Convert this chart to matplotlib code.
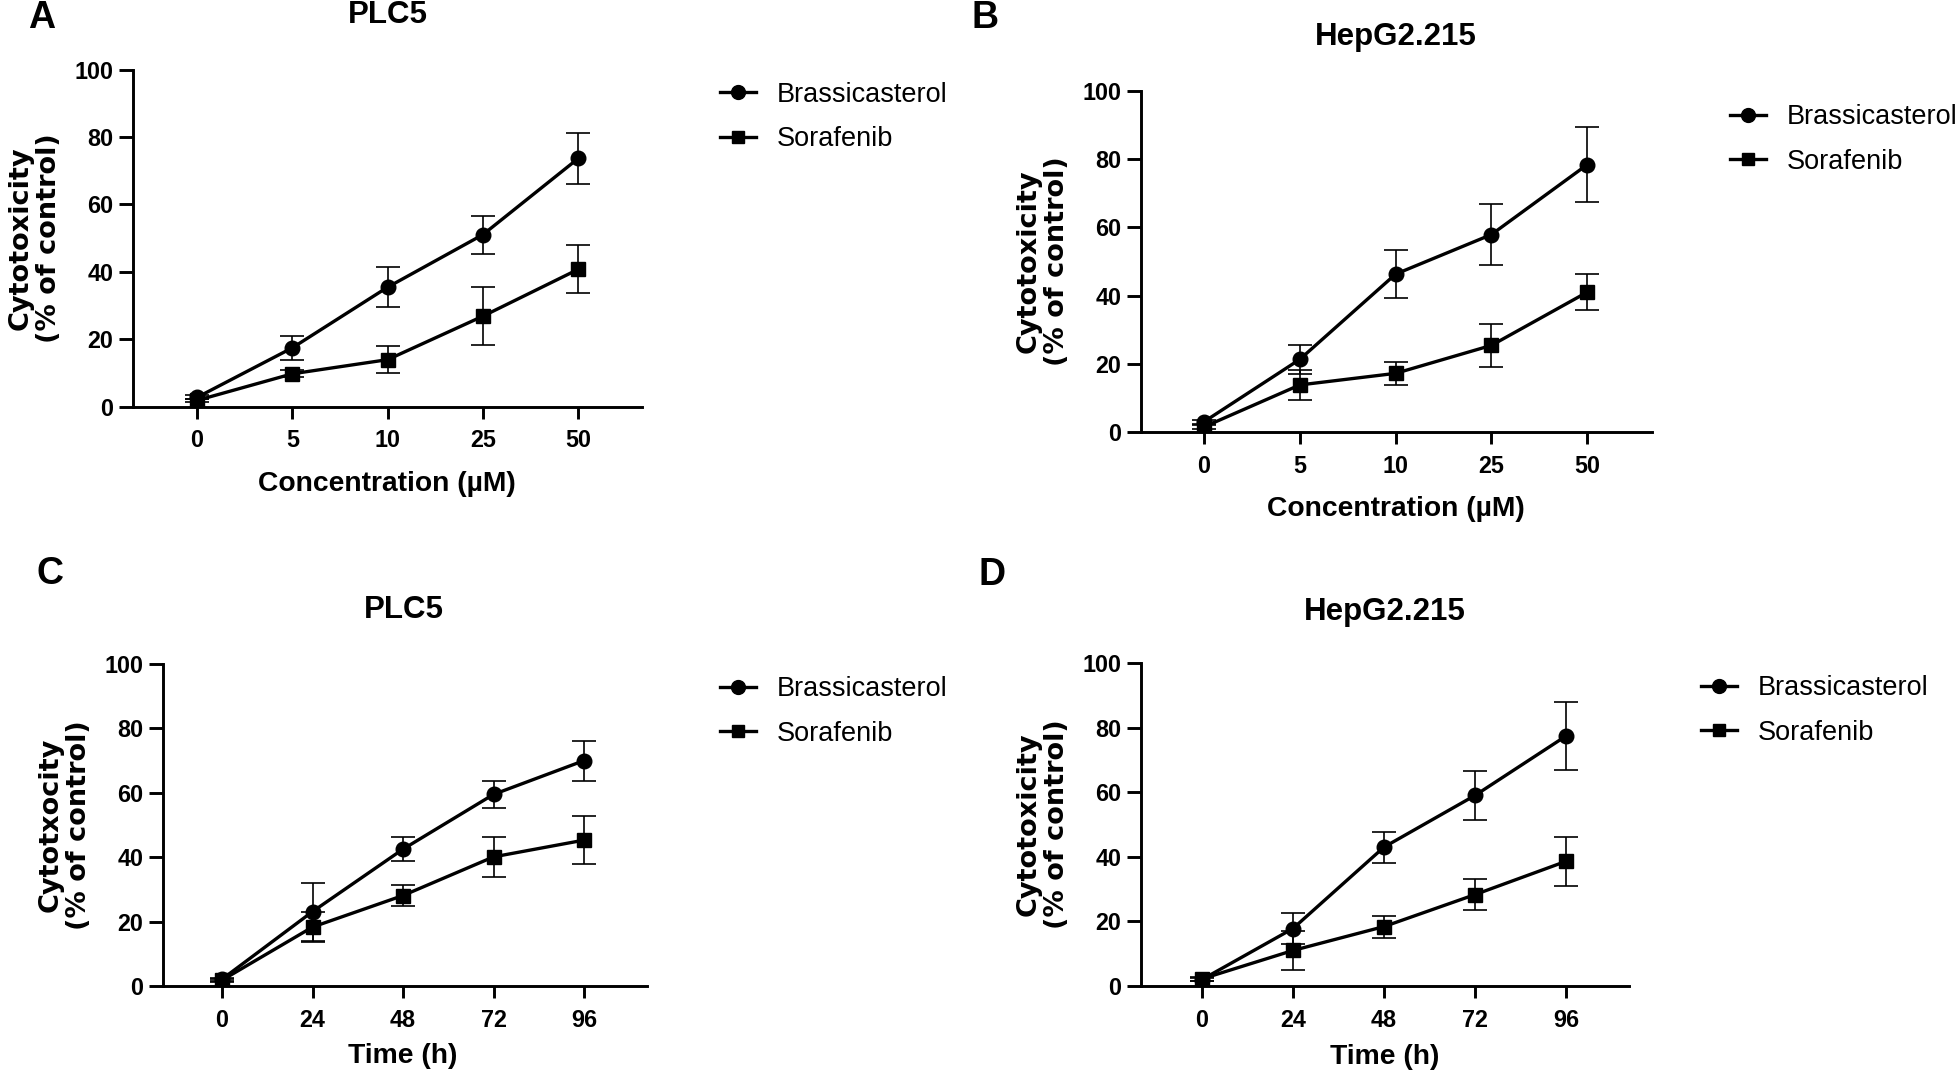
import matplotlib
matplotlib.use("Agg")
import matplotlib.pyplot as plt

# ---------------- data ----------------
conc_labels = ["0", "5", "10", "25", "50"]
time_labels = ["0", "24", "48", "72", "96"]
series_names = ["Brassicasterol", "Sorafenib"]

# Panel A: PLC5, concentration
A_bras = [2.7, 17.4, 35.4, 51.0, 73.6]
A_bras_err = [0.6, 3.5, 6.0, 5.6, 7.7]
A_sora = [1.8, 9.7, 13.9, 26.8, 40.7]
A_sora_err = [0.5, 1.0, 4.1, 8.6, 7.1]

# Panel B: HepG2.215, concentration
B_bras = [3.0, 21.3, 46.3, 57.9, 78.4]
B_bras_err = [0.6, 4.3, 7.1, 9.0, 11.0]
B_sora = [1.5, 13.8, 17.2, 25.4, 41.0]
B_sora_err = [0.5, 4.5, 3.3, 6.3, 5.2]

# Panel C: PLC5, time
C_bras = [2.1, 23.1, 42.5, 59.5, 70.0]
C_bras_err = [0.5, 9.0, 3.7, 4.1, 6.2]
C_sora = [1.8, 18.3, 28.1, 40.1, 45.3]
C_sora_err = [0.5, 4.6, 3.3, 6.3, 7.5]

# Panel D: HepG2.215, time
D_bras = [2.0, 17.8, 43.0, 59.0, 77.4]
D_bras_err = [0.5, 4.7, 4.8, 7.6, 10.6]
D_sora = [2.2, 11.0, 18.4, 28.3, 38.6]
D_sora_err = [0.5, 6.0, 3.4, 4.9, 7.5]

titles = ["PLC5", "HepG2.215", "PLC5", "HepG2.215"]
panel_letters = ["A", "B", "C", "D"]
xlabels = ["Concentration (\u00b5M)", "Concentration (\u00b5M)", "Time (h)", "Time (h)"]
ylabels = ["Cytotoxicity\n(% of control)", "Cytotoxicity\n(% of control)",
           "Cytotxocity\n(% of control)", "Cytotoxicity\n(% of control)"]
yticks = [0, 20, 40, 60, 80, 100]

# ---------------- layout (pixels, from top-left) ----------------
W, H = 1960, 1074
def fx(px):
    return px / W
def fy(py):
    return 1 - py / H

# left, right, top, bottom of axes; x of first tick; tick spacing
layout = [
    dict(l=133, r=642, t=69.5, b=406.5, x0=197, dx=95.3,
         title=(387.5, 15), letter=(42, 18), ylab=35, xlab=(387, 484),
         leg=(720, 81.5)),
    dict(l=1141, r=1652, t=91, b=432, x0=1204, dx=95.8,
         title=(1396, 37), letter=(985, 18), ylab=1043, xlab=(1396, 509),
         leg=(1729.5, 104)),
    dict(l=163, r=647, t=664, b=986, x0=222, dx=90.5,
         title=(404, 610), letter=(50, 574), ylab=65, xlab=(403, 1056),
         leg=(719.5, 676)),
    dict(l=1141, r=1629, t=663, b=986, x0=1202, dx=91.0,
         title=(1385, 612), letter=(992, 575), ylab=1043, xlab=(1385, 1057),
         leg=(1701, 675)),
]

panels = [
    (conc_labels, A_bras, A_bras_err, A_sora, A_sora_err),
    (conc_labels, B_bras, B_bras_err, B_sora, B_sora_err),
    (time_labels, C_bras, C_bras_err, C_sora, C_sora_err),
    (time_labels, D_bras, D_bras_err, D_sora, D_sora_err),
]

SANS = ["Liberation Sans", "DejaVu Sans"]
WIDE = ["DejaVu Sans"]
plt.rcParams["font.family"] = SANS

fig = plt.figure(figsize=(W / 100, H / 100), dpi=100)

for i, (lay, data) in enumerate(zip(layout, panels)):
    xl, bras, bras_err, sora, sora_err = data
    ax = fig.add_axes([fx(lay["l"]), fy(lay["b"]),
                       (lay["r"] - lay["l"]) / W, (lay["b"] - lay["t"]) / H])
    xs = list(range(len(xl)))
    for vals, errs, mk, ms, name in [(sora, sora_err, "s", 9.5, series_names[1]),
                                      (bras, bras_err, "o", 10.5, series_names[0])]:
        ax.errorbar(xs, vals, yerr=errs, fmt="none", ecolor="black",
                    elinewidth=1.2, capsize=8.5, capthick=1.2, zorder=2)
        ax.plot(xs, vals, color="black", lw=2.4, marker=mk, ms=ms,
                mfc="black", mec="black", label=name, zorder=3)
    ax.set_ylim(0, 100)
    ax.set_xlim((lay["l"] - lay["x0"]) / lay["dx"], (lay["r"] - lay["x0"]) / lay["dx"])
    ax.set_xticks(xs)
    ax.set_xticklabels(xl)
    ax.set_yticks(yticks)
    for s in ["top", "right"]:
        ax.spines[s].set_visible(False)
    for s in ["left", "bottom"]:
        ax.spines[s].set_linewidth(2.1)
    ax.tick_params(axis="y", length=10, width=2.1, pad=4, labelsize=16.8)
    ax.tick_params(axis="x", length=8.5, width=2.1, pad=8, labelsize=16.8)
    for lab in ax.get_xticklabels() + ax.get_yticklabels():
        lab.set_fontweight("bold")
    ax.patch.set_visible(False)

    handles, labels = ax.get_legend_handles_labels()
    order = [labels.index(n) for n in series_names]
    ax.legend([handles[k] for k in order], [labels[k] for k in order],
              loc="upper left", bbox_to_anchor=(fx(lay["leg"][0]), fy(lay["leg"][1])),
              bbox_transform=fig.transFigure, frameon=False, borderpad=0,
              borderaxespad=0, handlelength=1.33, handletextpad=0.78,
              labelspacing=0.7, numpoints=1, markerscale=0.95,
              prop=dict(family=SANS, size=19.5))

    fig.text(fx(lay["title"][0]), fy(lay["title"][1]), titles[i], ha="center",
             va="center", fontsize=22.5, fontweight="bold")
    fig.text(fx(lay["letter"][0]), fy(lay["letter"][1]), panel_letters[i],
             ha="center", va="center", fontsize=27, fontweight="bold")
    fig.text(fx(lay["xlab"][0]), fy(lay["xlab"][1]), xlabels[i], ha="center",
             va="center", fontsize=20.3, fontweight="bold")
    fig.text(fx(lay["ylab"]), fy((lay["t"] + lay["b"]) / 2), ylabels[i],
             rotation=90, ha="center", va="center", multialignment="center",
             fontsize=19.5, fontweight="bold", family=WIDE, linespacing=1.12)

fig.savefig("out.png", dpi=100, facecolor="white")
